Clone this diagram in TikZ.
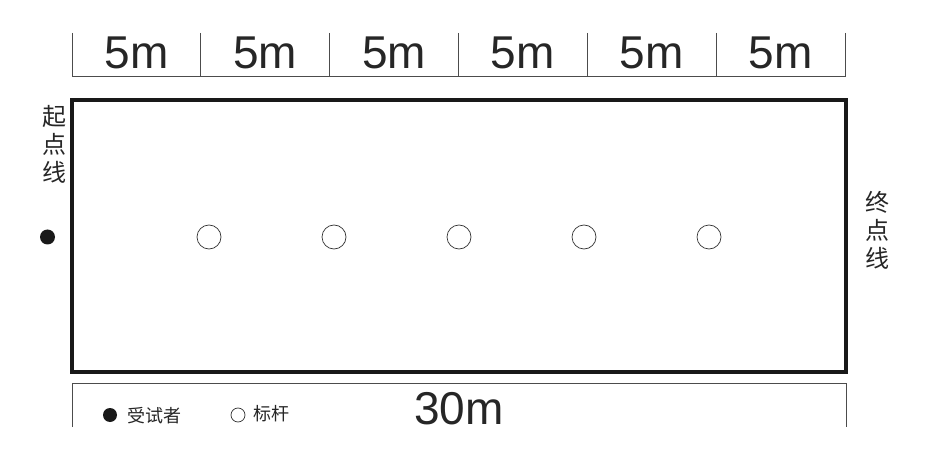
\documentclass[tikz,border=0pt]{standalone}
\usepackage{fontspec}
\setmainfont{Liberation Sans}
\newfontfamily\cjk{Noto Sans CJK SC}
\begin{document}
\begin{tikzpicture}[x=1pt, y=-1pt,
    dimline/.style={draw=black!70, line width=0.8pt},
    pole/.style={draw=black!80, circle, line width=0.7pt, minimum size=24pt, inner sep=0pt},
    runner/.style={fill=black!90, circle, inner sep=0pt},
    len/.style={font=\fontsize{46}{46}\selectfont, text=black!85, inner sep=0pt},
    sidetext/.style={font=\cjk\fontsize{24}{28}\selectfont, align=center, text=black!85},
    legendtext/.style={font=\cjk\fontsize{18}{18}\selectfont, text=black!85, anchor=west, inner sep=0pt}]
    \useasboundingbox (0,0) rectangle (929,465);
    \draw[line width=4pt, black!90] (72,100) rectangle (846,372);
    \draw[dimline] (72,76) -- (845,76);
    \foreach \x in {0,...,6}
       \draw[dimline] (72+\x*128.83,33) -- (72+\x*128.83,77);
    \foreach \x in {0,...,5}
       \node[len] (d\x) at (136.4+\x*128.83,53) {5m};
    \foreach \x in {1,...,5}
       \node[pole] (p\x) at (84+\x*125,237) {};
    \node[runner, minimum size=15pt] (start) at (47.5,237) {};
    \node[sidetext] (startline) at (54,144) {起\\点\\线};
    \node[sidetext] (endline) at (877,230) {终\\点\\线};
    \draw[dimline] (72,427) -- (72,383) -- (846,383) -- (846,427);
    \node[len] (total) at (459,409) {30m};
    \node[runner, minimum size=14pt] (keyrunner) at (110,415) {};
    \node[legendtext] (keyrunnertext) at (127,416) {受试者};
    \node[pole, minimum size=14pt] (keypole) at (238,415) {};
    \node[legendtext] (keypoletext) at (253,414) {标杆};
\end{tikzpicture}
\end{document}
